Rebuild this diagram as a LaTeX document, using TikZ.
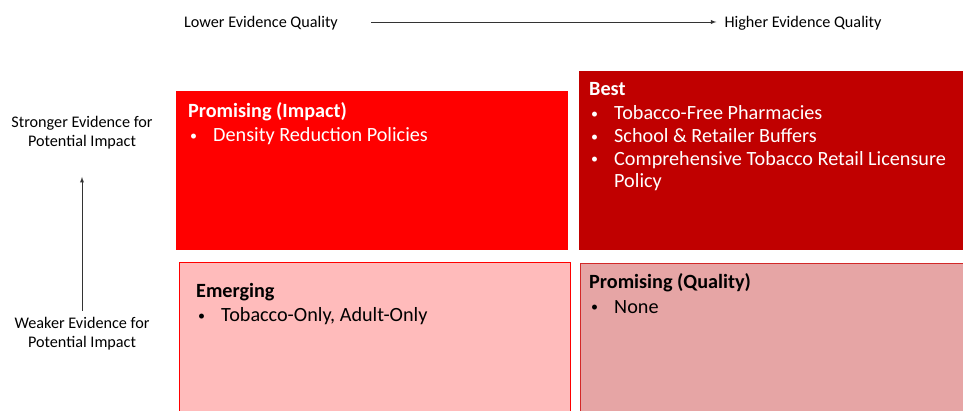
\documentclass[tikz,border=0pt]{standalone}
\usepackage{fontspec}
\setmainfont{Carlito}
\usetikzlibrary{positioning}

\definecolor{impactred}{RGB}{255,0,0}
\definecolor{bestred}{RGB}{192,0,0}
\definecolor{emergepink}{RGB}{255,187,187}
\definecolor{qualitypink}{RGB}{230,165,165}
\definecolor{qualityline}{RGB}{210,40,40}
\newcommand{\cellbullet}{\makebox[25pt][l]{\hspace{2pt}\raisebox{1.5pt}{\fontsize{14}{14}\selectfont\textbullet}}}

\begin{document}
\begin{tikzpicture}[x=1pt,y=-1pt,>=latex,
    axislabel/.style={inner sep=0pt, align=center, font=\fontsize{16.2}{19.5}\selectfont},
    axisarrow/.style={->, line width=0.9pt, black!80},
    cell/.style={anchor=north west, inner sep=0pt, outer sep=0pt},
    celltext/.style={anchor=base west, inner sep=0pt, align=left, font=\fontsize{20.2}{22.7}\selectfont}]
        \useasboundingbox (0,0) rectangle (963,411);
        % axis labels (base = last line)
        \node[axislabel, anchor=base] (lowq) at (261,28) {Lower Evidence Quality};
        \node[axislabel, anchor=base] (highq) at (803,28) {Higher Evidence Quality};
        \node[axislabel, anchor=base] (strong) at (82,147) {Stronger Evidence for\\Potential Impact};
        \node[axislabel, anchor=base] (weak) at (82,348) {Weaker Evidence for\\Potential Impact};
        \coordinate (qstart) at (371,22);
        \coordinate (istart) at (82,311);
        \draw[axisarrow] (qstart) -- ([xshift=-8pt]highq.west |- qstart);
        \draw[axisarrow] (istart) -- (strong.south |- 0,177);
        % quadrants
        \node[cell, fill=impactred, minimum width=392pt, minimum height=159pt] (impact) at (176,91) {};
        \node[cell, fill=bestred, minimum width=384pt, minimum height=179pt] (best) at (579,71) {};
        \node[cell, fill=emergepink, draw=impactred, minimum width=391pt, minimum height=160pt] (emerge) at (179,262) {};
        \node[cell, fill=qualitypink, draw=qualityline, minimum width=390pt, minimum height=160pt] (quality) at (580,263) {};
        % quadrant texts (placed at the baseline of their last line)
        \node[celltext, text=white] (impacttext) at (188,142)
            {\textbf{Promising (Impact)}\\[1.5pt]\cellbullet Density Reduction Policies};
        \node[celltext, text=white] (besttext) at (589,188)
            {\textbf{Best}\\[1.5pt]\cellbullet Tobacco-Free Pharmacies\\
             \cellbullet School \& Retailer Buffers\\
             \cellbullet Comprehensive Tobacco Retail Licensure\\
             \hspace*{25pt}Policy};
        \node[celltext] (emergetext) at (196,322)
            {\textbf{Emerging}\\[1.5pt]\cellbullet Tobacco-Only, Adult-Only};
        \node[celltext] (qualitytext) at (589,313)
            {\textbf{Promising (Quality)}\\[1.5pt]\cellbullet None};
    \end{tikzpicture}
\end{document}
